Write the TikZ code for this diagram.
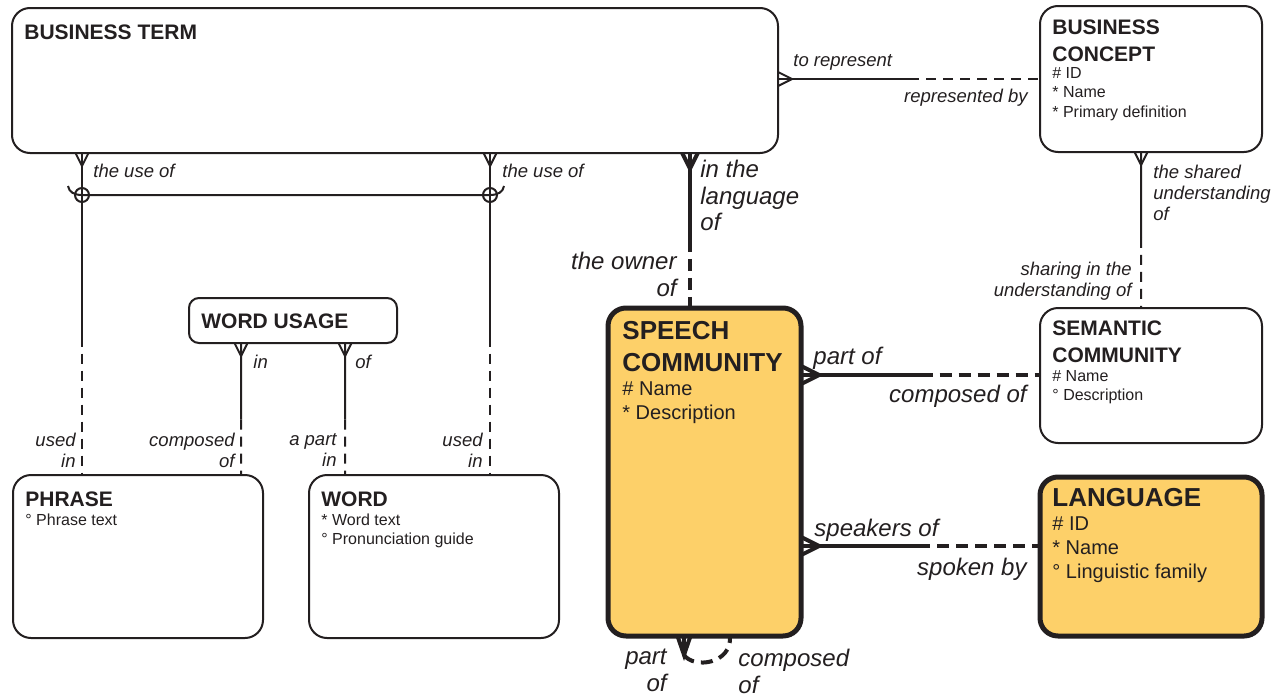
\documentclass[tikz,border=0pt]{standalone}
\usepackage{fontspec}
\setmainfont{Liberation Sans}
\usetikzlibrary{calc, positioning}

\definecolor{ink}{HTML}{231F20}
\definecolor{ochre}{HTML}{FDD069}

\tikzstyle{entity} = [rectangle, rounded corners=9pt, draw=ink, line width=1pt, fill=white, anchor=north west, inner sep=0pt, outer sep=0pt]
\tikzstyle{keyentity} = [entity, fill=ochre, line width=2.5pt]
\tikzstyle{title} = [inner sep=0pt, align=left, text=ink, font=\bfseries\fontsize{10.5}{13.5}\selectfont]
\tikzstyle{bigtitle} = [title, font=\bfseries\fontsize{13}{16}\selectfont]
\tikzstyle{attr} = [inner sep=0pt, align=left, text=ink, font=\fontsize{8}{9.75}\selectfont]
\tikzstyle{bigattr} = [attr, font=\fontsize{10}{12}\selectfont]
\tikzstyle{role} = [inner sep=0pt, text=ink, font=\itshape\fontsize{9.25}{10.5}\selectfont]
\tikzstyle{bigrole} = [role, font=\itshape\fontsize{12}{13.25}\selectfont]
\tikzstyle{must} = [draw=ink, line width=1pt]
\tikzstyle{may} = [must, dash pattern=on 5pt off 3.5pt]
\tikzstyle{mustthick} = [draw=ink, line width=2pt]
\tikzstyle{maythick} = [mustthick, dash pattern=on 6pt off 3.5pt]

% crow's feet, drawn in picture units
\tikzset{
  crowdown/.pic={\draw[pic actions] (-6.5,0) -- (0,13) -- (6.5,0);},
  crowright/.pic={\draw[pic actions] (0,-7) -- (14,0) -- (0,7);}
}

\begin{document}
\begin{tikzpicture}[x=0.5pt, y=-0.5pt]
\useasboundingbox (0,0) rectangle (1278,696);

        % entities
        \node (bt) [entity, minimum width=383pt, minimum height=72.5pt] at (12,8) {};
        \node (bc) [entity, minimum width=111pt, minimum height=73pt] at (1040,6) {};
        \node (wu) [entity, rounded corners=5pt, minimum width=104pt, minimum height=22.5pt] at (189,298) {};
        \node (phrase) [entity, minimum width=125pt, minimum height=81.5pt] at (13,475) {};
        \node (word) [entity, minimum width=125pt, minimum height=81.5pt] at (309,475) {};
        \node (sc) [keyentity, minimum width=96.5pt, minimum height=164pt] at (608,308) {};
        \node (sem) [entity, minimum width=111pt, minimum height=67.5pt] at (1040,308) {};
        \node (lang) [keyentity, minimum width=111pt, minimum height=79.5pt] at (1040,477) {};

        % entity texts
        \node (bttitle) [title, below right=8pt and 6pt of bt.north west] {BUSINESS TERM};
        \node (bctitle) [title, below right=6.5pt and 6pt of bc.north west] {BUSINESS\\CONCEPT};
        \node (bcattr) [attr, below right=30.5pt and 6pt of bc.north west] {\# ID\\* Name\\* Primary definition};
        \node (wutitle) [title, below right=7.5pt and 6pt of wu.north west] {WORD USAGE};
        \node (phrasetitle) [title, below right=8pt and 6pt of phrase.north west] {PHRASE};
        \node (phraseattr) [attr, below right=19pt and 6pt of phrase.north west] {° Phrase text};
        \node (wordtitle) [title, below right=8pt and 6pt of word.north west] {WORD};
        \node (wordattr) [attr, below right=19pt and 6pt of word.north west] {* Word text\\° Pronunciation guide};
        \node (sctitle) [bigtitle, below right=6.5pt and 7pt of sc.north west] {SPEECH\\COMMUNITY};
        \node (scattr) [bigattr, below right=36.5pt and 7pt of sc.north west] {\# Name\\* Description};
        \node (semtitle) [title, below right=6pt and 6pt of sem.north west] {SEMANTIC\\COMMUNITY};
        \node (semattr) [attr, below right=31pt and 6pt of sem.north west] {\# Name\\° Description};
        \node (langtitle) [bigtitle, below right=5.5pt and 6pt of lang.north west] {LANGUAGE};
        \node (langattr) [bigattr, below right=19.5pt and 6pt of lang.north west] {\# ID\\* Name\\° Linguistic family};

        % business term -- business concept
        \coordinate (rep1) at (bt.east |- bc.west);
        \coordinate (rep2) at (bc.west);
        \draw[must] (rep1) -- ($(rep1)!.5!(rep2)$);
        \draw[may] ($(rep1)!.5!(rep2)$) -- (rep2);
        \pic[must] at (rep1) {crowright};
        \node (torep) [role, anchor=north west] at (793,54) {to represent};
        \node (repby) [role, anchor=north east] at (1028,89) {represented by};

        % business concept -- semantic community
        \coordinate (sh1) at ([xshift=50.5pt]bc.south west);
        \coordinate (sh2) at (sh1 |- sem.north);
        \draw[must] (sh1) -- ($(sh1)!.55!(sh2)$);
        \draw[may] ($(sh1)!.55!(sh2)$) -- (sh2);
        \pic[must] at (sh1) {crowdown};
        \node (shared) [role, anchor=north west, align=left] at (1153,165) {the shared\\understanding\\of};
        \node (sharing) [role, anchor=north east, align=right] at (1132,262) {sharing in the\\understanding of};

        % business term -- speech community
        \coordinate (lg2) at ([xshift=41pt]sc.north west);
        \coordinate (lg1) at (lg2 |- bt.south);
        \draw[mustthick] (lg1) -- ($(lg1)!.56!(lg2)$);
        \draw[maythick] ($(lg1)!.56!(lg2)$) -- (lg2);
        \pic[mustthick, scale=1.2] at (lg1) {crowdown};
        \node (inlang) [bigrole, anchor=north west, align=left] at (700,160) {in the\\language\\of};
        \node (owner) [bigrole, anchor=north east, align=right] at (677,252) {the owner\\of};

        % speech community -- semantic community
        \coordinate (pt1) at ([yshift=-33.5pt]sc.north east);
        \coordinate (pt2) at (pt1 -| sem.west);
        \draw[mustthick] (pt1) -- ($(pt1)!.5!(pt2)$);
        \draw[maythick] ($(pt1)!.5!(pt2)$) -- (pt2);
        \pic[mustthick, scale=1.3] at (pt1) {crowright};
        \node (partof) [bigrole, anchor=north west] at (813,347) {part of};
        \node (compof) [bigrole, anchor=north east] at (1027,385) {composed of};

        % speech community -- language
        \coordinate (sp1) at ([yshift=-119pt]sc.north east);
        \coordinate (sp2) at (sp1 -| lang.west);
        \draw[mustthick] (sp1) -- ($(sp1)!.49!(sp2)$);
        \draw[maythick] ($(sp1)!.49!(sp2)$) -- (sp2);
        \pic[mustthick, scale=1.3] at (sp1) {crowright};
        \node (speakers) [bigrole, anchor=north west] at (814,519) {speakers of};
        \node (spoken) [bigrole, anchor=north east] at (1027,558) {spoken by};

        % speech community -- itself
        \coordinate (loop1) at ([xshift=38pt]sc.south west);
        \coordinate (loop2) at ([xshift=61pt]sc.south west);
        \coordinate (loop3) at ([yshift=-9.5pt]loop1);
        \pic[mustthick, yscale=1.45] at (loop1) {crowdown};
        \draw[mustthick] (loop1) -- (loop3);
        \draw[maythick] (loop3) .. controls ([shift={(10,14)}]loop3) and ([shift={(2,28)}]loop2) .. (loop2);
        \node (looppart) [bigrole, anchor=north east, align=right] at (667,649) {part\\of};
        \node (loopcomp) [bigrole, anchor=north west, align=left] at (738,649) {composed\\of};

        % word usage -- phrase, word usage -- word
        \coordinate (wp1) at ([xshift=26pt]wu.south west);
        \coordinate (wp2) at (wp1 |- phrase.north);
        \draw[must] (wp1) -- ($(wp1)!.58!(wp2)$);
        \draw[may] ($(wp1)!.58!(wp2)$) -- (wp2);
        \pic[must] at (wp1) {crowdown};
        \coordinate (ww1) at ([xshift=78pt]wu.south west);
        \coordinate (ww2) at (ww1 |- word.north);
        \draw[must] (ww1) -- ($(ww1)!.58!(ww2)$);
        \draw[may] ($(ww1)!.58!(ww2)$) -- (ww2);
        \pic[must] at (ww1) {crowdown};
        \node (wuin) [role, anchor=north west] at (253,355) {in};
        \node (wuof) [role, anchor=north west] at (355,355) {of};
        \node (phrcomp) [role, anchor=north east, align=right] at (235,433) {composed\\of};
        \node (wrdpart) [role, anchor=north east, align=right] at (337,433) {a part\\in};

        % business term -- phrase or word (exclusive arc)
        \coordinate (bp1) at ([xshift=35pt]bt.south west);
        \coordinate (bp2) at (bp1 |- phrase.north);
        \coordinate (bw1) at ([xshift=239pt]bt.south west);
        \coordinate (bw2) at (bw1 |- word.north);
        \draw[must] (bp1) -- ($(bp1)!.57!(bp2)$);
        \draw[may] ($(bp1)!.57!(bp2)$) -- (bp2);
        \draw[must] (bw1) -- ($(bw1)!.57!(bw2)$);
        \draw[may] ($(bw1)!.57!(bw2)$) -- (bw2);
        \pic[must] at (bp1) {crowdown};
        \pic[must] at (bw1) {crowdown};
        \coordinate (arcl) at ([yshift=-21pt]bp1);
        \coordinate (arcr) at ([yshift=-21pt]bw1);
        \draw[must] ([shift={(-14,-9)}]arcl) .. controls ([shift={(-13,-3)}]arcl) and ([shift={(-8,0)}]arcl) .. (arcl)
            -- (arcr) .. controls ([shift={(8,0)}]arcr) and ([shift={(13,-3)}]arcr) .. ([shift={(14,-9)}]arcr);
        \draw[must] (arcl) circle[radius=3.5pt];
        \draw[must] (arcr) circle[radius=3.5pt];
        \node (useof1) [role, anchor=north west] at (93,164) {the use of};
        \node (useof2) [role, anchor=north west] at (502,164) {the use of};
        \node (phrused) [role, anchor=north east, align=right] at (76,433) {used\\in};
        \node (wrdused) [role, anchor=north east, align=right] at (483,433) {used\\in};

\end{tikzpicture}
\end{document}
